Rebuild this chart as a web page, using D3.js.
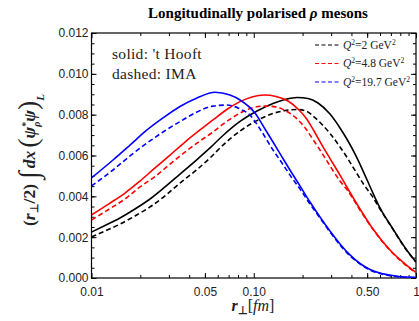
<!DOCTYPE html>
<html>
<head>
<meta charset="utf-8">
<script src="https://cdn.jsdelivr.net/npm/d3@7"></script>
<style>
  body { margin: 0; background: #fff; }
  svg { display: block; }
  .tick-label { font-family: "Liberation Sans", Arial, sans-serif; font-size: 12px; fill: #222; }
  .serif { font-family: "Liberation Serif", "Times New Roman", serif; }
</style>
</head>
<body>
<div id="chart"></div>
<script>
// r_perp [fm] and values
const blueSolidX = [0.01, 0.01357, 0.01727, 0.02198, 0.02759, 0.03511, 0.04468, 0.05772, 0.07138, 0.08228, 0.1018, 0.1173, 0.1314, 0.1493, 0.1672, 0.1928, 0.2222, 0.256, 0.2951, 0.3401, 0.3918, 0.4516, 0.5206, 0.5999, 0.7424, 1.0];
const blueSolidY = [0.0049, 0.00578, 0.00651, 0.00725, 0.00784, 0.0084, 0.00882, 0.0091, 0.00896, 0.00872, 0.00808, 0.0073, 0.00666, 0.00593, 0.00529, 0.00451, 0.00372, 0.00299, 0.0023, 0.00167, 0.00113, 0.00071, 0.00042, 0.00024, 0.0001, 0.00002];
const blueDashX = [0.01, 0.01357, 0.01727, 0.02198, 0.02759, 0.03511, 0.04468, 0.05609, 0.0684, 0.08228, 0.09482, 0.1093, 0.1314, 0.1493, 0.1672, 0.1928, 0.2222, 0.256, 0.2951, 0.3401, 0.3918, 0.4516, 0.5206, 0.5999, 0.7424, 1.0];
const blueDashY = [0.00451, 0.00529, 0.00598, 0.00661, 0.00715, 0.00766, 0.00813, 0.00842, 0.00847, 0.00828, 0.00798, 0.0073, 0.00627, 0.00563, 0.00504, 0.00436, 0.00362, 0.00294, 0.00225, 0.00162, 0.00108, 0.00069, 0.00039, 0.00022, 0.00008, 0.00002];

const redSolidX = [0.01, 0.013, 0.01609, 0.0199, 0.02463, 0.03047, 0.0377, 0.04665, 0.05609, 0.06745, 0.08228, 0.09754, 0.1157, 0.1371, 0.1626, 0.1873, 0.2099, 0.2351, 0.2634, 0.2951, 0.3401, 0.381, 0.4516, 0.5433, 0.6915, 0.8553, 1.0];
const redSolidY = [0.00309, 0.00367, 0.00416, 0.00475, 0.00539, 0.00602, 0.00666, 0.00725, 0.00774, 0.00823, 0.00864, 0.00887, 0.00896, 0.00889, 0.00867, 0.00828, 0.00784, 0.0072, 0.00651, 0.00585, 0.00504, 0.00436, 0.00338, 0.0024, 0.00137, 0.00069, 0.00027];
const redDashX = [0.01, 0.013, 0.01609, 0.0199, 0.02463, 0.03047, 0.0377, 0.04665, 0.05609, 0.06745, 0.08228, 0.09754, 0.1157, 0.1371, 0.1581, 0.1821, 0.2099, 0.2351, 0.2634, 0.2951, 0.3401, 0.381, 0.4516, 0.5433, 0.6915, 0.8553, 1.0];
const redDashY = [0.00284, 0.0034, 0.00387, 0.00446, 0.00497, 0.00558, 0.00617, 0.00671, 0.00715, 0.00764, 0.00808, 0.00833, 0.00842, 0.00838, 0.00818, 0.00784, 0.0073, 0.00671, 0.00612, 0.00549, 0.00475, 0.00426, 0.00333, 0.00238, 0.00135, 0.00066, 0.00024];

const blackSolidX = [0.01, 0.01211, 0.01498, 0.01854, 0.02294, 0.02838, 0.03511, 0.04468, 0.05375, 0.06463, 0.08228, 0.1047, 0.1314, 0.1558, 0.1847, 0.216, 0.2489, 0.2951, 0.3401, 0.381, 0.4267, 0.4781, 0.5356, 0.5999, 0.7216, 0.8677, 1.0];
const blackSolidY = [0.00225, 0.00257, 0.00294, 0.00338, 0.00387, 0.00446, 0.00509, 0.0058, 0.00637, 0.00698, 0.00767, 0.00818, 0.00855, 0.00874, 0.00884, 0.00879, 0.00857, 0.00803, 0.00735, 0.00671, 0.00598, 0.00514, 0.00426, 0.00343, 0.0024, 0.00142, 0.00078];
const blackDashX = [0.01, 0.01211, 0.01498, 0.01854, 0.02294, 0.02838, 0.03511, 0.04468, 0.05375, 0.06463, 0.08228, 0.1047, 0.1314, 0.1558, 0.1847, 0.2099, 0.2351, 0.2634, 0.2951, 0.3401, 0.381, 0.4267, 0.4781, 0.5356, 0.5999, 0.7216, 0.8677, 1.0];
const blackDashY = [0.00201, 0.0023, 0.00264, 0.00304, 0.00348, 0.00402, 0.00465, 0.00531, 0.00588, 0.00651, 0.0072, 0.00771, 0.00806, 0.0082, 0.00825, 0.00818, 0.00789, 0.00752, 0.00708, 0.00642, 0.00583, 0.00519, 0.00456, 0.00402, 0.00338, 0.00238, 0.0014, 0.00078];

const xTickValues = [0.01, 0.05, 0.1, 0.5, 1];
const xTickLabels = ['0.01', '0.05', '0.10', '0.50', '1'];
const yTickValues = [0, 0.002, 0.004, 0.006, 0.008, 0.010, 0.012];
const legendLabels = ['2', '4.8', '19.7'];

const w = 419;
const h = 321;
const padL = 91.5, padR = 416, padT = 33, padB = 278;

const svg = d3.select('#chart').append('svg')
    .attr('width', w)
    .attr('height', h);

const x = d3.scaleLog().domain([0.01, 1]).range([padL, padR]);
const y = d3.scaleLinear().domain([0, 0.012]).range([padB, padT]);

// minor ticks
const xMinor = [];
[0.01, 0.1].forEach(d => { for (let k = 2; k <= 9; k++) xMinor.push(d * k); });
const yMinor = d3.range(0, 0.01201, 0.0005);

const axisG = svg.append('g');

const drawTicks = (g, axis) => {
    g.call(axis);
    g.select('.domain').remove();
    g.selectAll('.tick line').attr('stroke', '#000').attr('stroke-width', 1);
};

// bottom + top
axisG.append('g').attr('transform', `translate(0,${padB})`)
    .call(g => drawTicks(g, d3.axisBottom(x).tickValues(xMinor).tickSize(-3).tickFormat('')));
axisG.append('g').attr('transform', `translate(0,${padB})`)
    .call(g => drawTicks(g, d3.axisBottom(x).tickValues(xTickValues).tickSize(-5).tickPadding(9).tickFormat((d, i) => xTickLabels[i])))
    .selectAll('text').attr('class', 'tick-label');
axisG.append('g').attr('transform', `translate(0,${padT})`)
    .call(g => drawTicks(g, d3.axisTop(x).tickValues(xMinor).tickSize(-3).tickFormat('')));
axisG.append('g').attr('transform', `translate(0,${padT})`)
    .call(g => drawTicks(g, d3.axisTop(x).tickValues(xTickValues).tickSize(-5).tickFormat('')));

// left + right
axisG.append('g').attr('transform', `translate(${padL},0)`)
    .call(g => drawTicks(g, d3.axisLeft(y).tickValues(yMinor).tickSize(-3).tickFormat('')));
axisG.append('g').attr('transform', `translate(${padL},0)`)
    .call(g => drawTicks(g, d3.axisLeft(y).tickValues(yTickValues).tickSize(-5).tickPadding(3).tickFormat(d3.format('.3f'))))
    .selectAll('text').attr('class', 'tick-label');
axisG.append('g').attr('transform', `translate(${padR},0)`)
    .call(g => drawTicks(g, d3.axisRight(y).tickValues(yMinor).tickSize(-3).tickFormat('')));
axisG.append('g').attr('transform', `translate(${padR},0)`)
    .call(g => drawTicks(g, d3.axisRight(y).tickValues(yTickValues).tickSize(-5).tickFormat('')));

svg.append('rect')
    .attr('x', padL).attr('y', padT)
    .attr('width', padR - padL).attr('height', padB - padT)
    .attr('fill', 'none').attr('stroke', '#000').attr('stroke-width', 1.2);

// curves
const curves = [
    { xs: blackSolidX, ys: blackSolidY, color: '#000', dash: null },
    { xs: blackDashX, ys: blackDashY, color: '#000', dash: '5,3' },
    { xs: redSolidX, ys: redSolidY, color: '#f00', dash: null },
    { xs: redDashX, ys: redDashY, color: '#f00', dash: '5,3' },
    { xs: blueSolidX, ys: blueSolidY, color: '#00f', dash: null },
    { xs: blueDashX, ys: blueDashY, color: '#00f', dash: '5,3' }
];

const line = d3.line()
    .x(d => x(d[0]))
    .y(d => y(d[1]))
    .curve(d3.curveMonotoneX);

svg.append('clipPath').attr('id', 'clip')
    .append('rect').attr('x', padL).attr('y', padT).attr('width', padR - padL).attr('height', padB - padT);

svg.append('g').attr('clip-path', 'url(#clip)')
    .selectAll('path')
    .data(curves)
    .enter()
    .append('path')
    .attr('d', c => line(c.xs.map((v, i) => [v, c.ys[i]])))
    .attr('fill', 'none')
    .attr('stroke', c => c.color)
    .attr('stroke-width', 1.6)
    .attr('stroke-dasharray', c => c.dash);

// title
svg.append('text')
    .attr('class', 'serif')
    .attr('x', 258).attr('y', 18)
    .attr('text-anchor', 'middle')
    .attr('font-weight', 'bold')
    .attr('font-size', 15)
    .html('Longitudinally polarised <tspan font-style="italic">ρ</tspan> mesons');

// annotation
svg.append('text').attr('class', 'serif')
    .attr('x', 112).attr('y', 59).attr('font-size', 15.5).attr('fill', '#222')
    .attr('letter-spacing', 0.3)
    .text("solid: 't Hooft");
svg.append('text').attr('class', 'serif')
    .attr('x', 112).attr('y', 79).attr('font-size', 15.5).attr('fill', '#222')
    .attr('letter-spacing', 0.3)
    .text('dashed: IMA');

// legend
const legendColors = ['#000', '#f00', '#00f'];
const legend = svg.append('g');
legendLabels.forEach((lab, i) => {
    const ly = 45 + i * 18.5;
    legend.append('line')
        .attr('x1', 315).attr('x2', 340).attr('y1', ly).attr('y2', ly)
        .attr('stroke', legendColors[i]).attr('stroke-width', 1.2)
        .attr('stroke-dasharray', '4,2.5');
    legend.append('text').attr('class', 'serif')
        .attr('x', 343).attr('y', ly + 3.5).attr('font-size', 11.5).attr('fill', '#222')
        .html(`<tspan font-style="italic">Q</tspan><tspan dy="-4" font-size="7.5">2</tspan><tspan dy="4">=${lab} GeV</tspan><tspan dy="-4" font-size="7.5">2</tspan>`);
});

// x axis label
svg.append('text').attr('class', 'serif')
    .attr('x', 253).attr('y', 311).attr('text-anchor', 'middle').attr('font-size', 16).attr('fill', '#222')
    .html('<tspan font-weight="bold" font-style="italic">r</tspan><tspan font-weight="bold" font-size="11" dy="3">⊥</tspan><tspan dy="-3">[</tspan><tspan font-style="italic">fm</tspan>]');

// y axis label
svg.append('text').attr('class', 'serif')
    .attr('transform', 'translate(35,160) rotate(-90)')
    .attr('text-anchor', 'middle').attr('font-size', 17.5).attr('fill', '#222')
    .attr('font-weight', 'bold')
    .html('(<tspan font-style="italic">r</tspan><tspan font-size="11" dy="3">⊥</tspan><tspan dy="-3">/2)</tspan>' +
          '<tspan font-size="28" dx="5" dy="3" font-weight="normal" font-style="italic">∫</tspan><tspan dy="-3" dx="3" font-style="italic">dx</tspan>' +
          '<tspan font-size="28" dx="3" dy="2" font-weight="normal">(</tspan><tspan dy="-2" font-style="italic">ψ</tspan>' +
          '<tspan font-size="10" dy="-6">*</tspan><tspan font-size="10" dx="-5" dy="11" font-style="italic">ρ</tspan><tspan dy="-5" font-style="italic">ψ</tspan>' +
          '<tspan font-size="28" dy="2" font-weight="normal">)</tspan><tspan font-size="11" dy="7" font-style="italic">L</tspan>');
</script>
</body>
</html>
